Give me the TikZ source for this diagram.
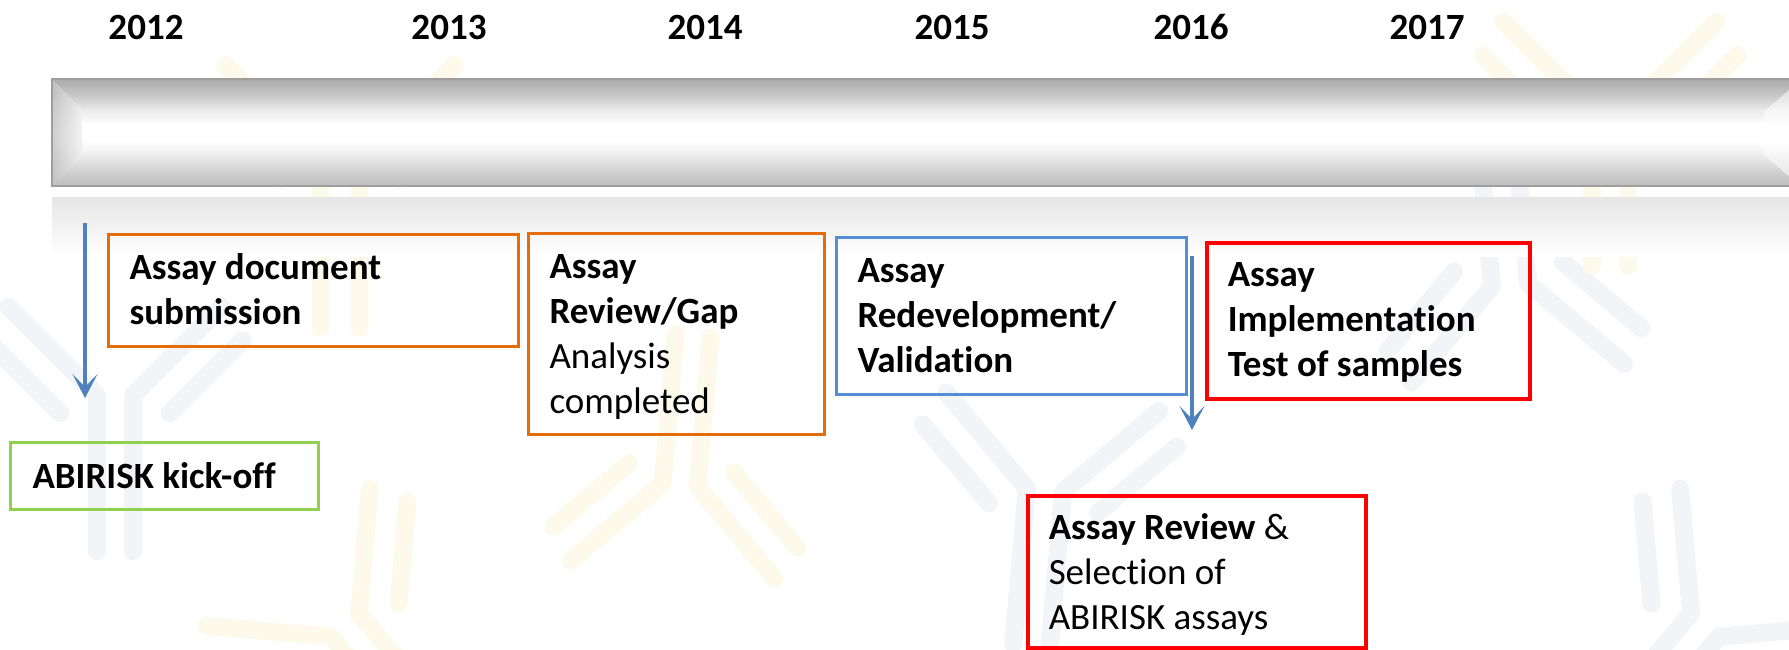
\documentclass[tikz,border=0pt]{standalone}
\usepackage{fontspec}
\setmainfont{Carlito}[Ligatures=NoCommon]
\usetikzlibrary{arrows.meta}

\definecolor{abOrange}{HTML}{E46C0A}
\definecolor{abBlue}{HTML}{558ED5}
\definecolor{abArrow}{HTML}{4F81BD}
\definecolor{abGreen}{HTML}{92D050}
\definecolor{abRed}{HTML}{FF0000}
\definecolor{wmYellow}{HTML}{FDFAEC}
\definecolor{wmGray}{HTML}{F3F4F7}

% metallic look of the timeline bar (bottom = 25bp, top = 75bp)
\pgfdeclareverticalshading{barshade}{100bp}{%
  color(0bp)=(black!25); color(25bp)=(black!25); color(28.7bp)=(black!22);
  color(34.8bp)=(black!14); color(41.8bp)=(black!4); color(46.5bp)=(white);
  color(53.5bp)=(white); color(60.5bp)=(black!8); color(67.5bp)=(black!22);
  color(74.5bp)=(black!32); color(100bp)=(black!33)}

\newcommand\evfont{\fontsize{37}{45}\selectfont}

\tikzset{
  pics/antibody/.style={code={
    \draw[line width=18pt, line cap=round, line join=round, draw=#1]
      (-14,120) -- (-14,0) -- (-82,-68)
      (14,120) -- (14,0) -- (82,-68)
      (-42,14) -- (-98,-42)
      (42,14) -- (98,-42);
  }},
  yearlabel/.style={font=\evfont\bfseries, anchor=base, inner sep=0pt},
  evbox/.style={draw=#1, line width=3pt, anchor=north west,
    inner xsep=21pt, inner ysep=0pt, font=\evfont},
  evarrow/.style={draw=abArrow, line width=4.5pt,
    -{Stealth[length=24pt, width=25pt, inset=13pt]}},
  barline/.style={draw=black!38, line width=1.2pt}
}

\begin{document}
\begin{tikzpicture}[x=1pt, y=-1pt]
\useasboundingbox (0,0) rectangle (1789,649);
\fill[white] (0,0) rectangle (1789,649);

\begin{scope}
\clip (0,0) rectangle (1789,649);

% faint antibody watermarks in the background
\pic[scale=1.4] at (340,160) {antibody=wmYellow};
\pic[scale=1.3] at (115,395) {antibody=wmGray};
\pic[scale=1.25, rotate=175] at (680,485) {antibody=wmYellow};
\pic[scale=1.3, rotate=-5] at (1045,490) {antibody=wmGray};
\pic[scale=1.3, rotate=-40] at (1705,625) {antibody=wmGray};
\pic[scale=1.3, rotate=40] at (345,625) {antibody=wmYellow};
\pic[scale=1.3, rotate=185] at (1510,285) {antibody=wmGray};
\pic[scale=1.3] at (1610,110) {antibody=wmYellow};

% timeline bar
\shade[shading=barshade] (52,79) rectangle (1800,186);
\shade[left color=black!24, right color=black!6, opacity=0.8]
  (52,79) -- (82,109) -- (82,156) -- (52,186) -- cycle;
\fill[white, opacity=0.55]
  (1800,80) -- (1764,112) -- (1764,155) -- (1800,186) -- cycle;
\draw[barline] (1800,79) -- (52,79) -- (52,186) -- (1800,186);

% soft reflection under the bar
\shade[top color=black!10, bottom color=white] (52,197) rectangle (1800,256);
\end{scope}

% years
\node[yearlabel] (y2012) at (146,39) {2012};
\node[yearlabel] (y2013) at (449,39) {2013};
\node[yearlabel] (y2014) at (705,39) {2014};
\node[yearlabel] (y2015) at (952,39) {2015};
\node[yearlabel] (y2016) at (1191,39) {2016};
\node[yearlabel] (y2017) at (1427,39) {2017};

% milestone boxes
\node[evbox=abGreen, inner xsep=22pt, text height=46pt, text depth=21pt]
  (kickoff) at (9,441)
  {\parbox[t]{264pt}{\raggedright\bfseries ABIRISK kick-off}};

\node[evbox=abOrange, text height=45pt, text depth=67pt]
  (submit) at (107,233)
  {\parbox[t]{368pt}{\raggedright\bfseries Assay document\\submission}};

\node[evbox=abOrange, text height=45pt, text depth=156pt]
  (gap) at (527,232)
  {\parbox[t]{254pt}{\raggedright\textbf{Assay}\\\textbf{Review/Gap}\\Analysis\\completed}};

\node[evbox=abBlue, text height=45pt, text depth=112pt]
  (redev) at (835,236)
  {\parbox[t]{308pt}{\raggedright\bfseries Assay\\Redevelopment/\\Validation}};

\node[evbox=abRed, line width=3.5pt, text height=44pt, text depth=112pt]
  (implement) at (1205,241)
  {\parbox[t]{281pt}{\raggedright\bfseries Assay\\Implementation\\Test of samples}};

\node[evbox=abRed, line width=3.5pt, text height=44pt, text depth=108pt]
  (select) at (1026,494)
  {\parbox[t]{296pt}{\raggedright\textbf{Assay Review} \&\\Selection of\\ABIRISK assays}};

% downward arrows
\coordinate (kickStart) at (85,223);
\coordinate (kickEnd) at (85,398);
\draw[evarrow] (kickStart) -- (kickEnd);

\coordinate (selStart) at (1192,256);
\coordinate (selEnd) at (1192,430);
\draw[evarrow] (selStart) -- (selEnd);
\end{tikzpicture}
\end{document}
